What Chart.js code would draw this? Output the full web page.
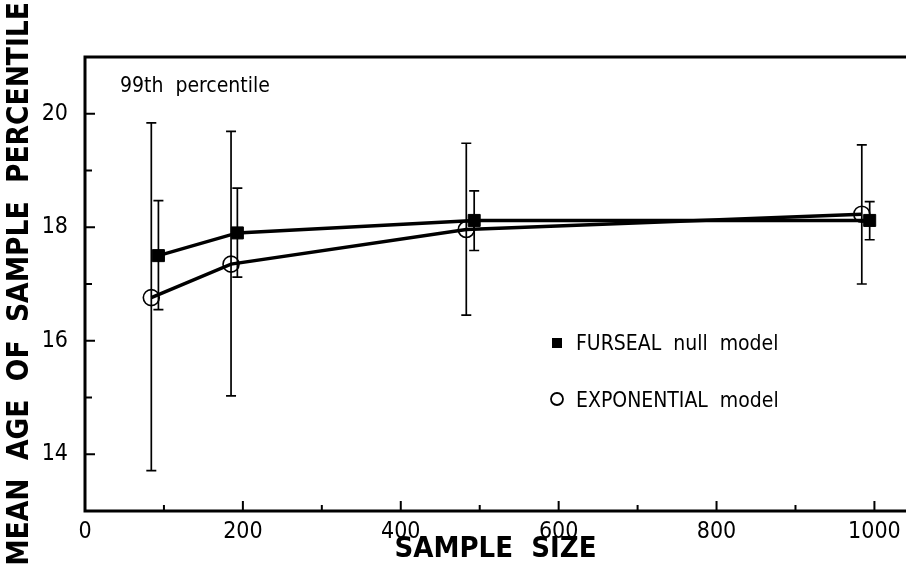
<!DOCTYPE html>
<html>
<head>
<meta charset="utf-8">
<script src="https://cdn.jsdelivr.net/npm/chart.js@4.4.0/dist/chart.umd.min.js"></script>
<style>
  html, body { margin: 0; padding: 0; background: #fff; }
  #wrap { width: 906px; height: 574px; position: relative; }
</style>
</head>
<body>
<div id="wrap"><canvas id="chart"></canvas></div>
<script>
const FONT = "'Liberation Sans Narrow', 'DejaVu Sans Condensed', 'Liberation Sans', sans-serif";

// FURSEAL null model (filled squares)
const furX = [93, 193, 493, 994];
const furY = [17.5, 17.9, 18.12, 18.12];
const furLow = [16.55, 17.12, 17.59, 17.78];
const furHigh = [18.47, 18.69, 18.64, 18.45];

// EXPONENTIAL model (open circles)
const expX = [84, 185, 483, 984];
const expY = [16.76, 17.35, 17.96, 18.23];
const expLow = [13.71, 15.03, 16.45, 17.0];
const expHigh = [19.84, 19.69, 19.48, 19.45];

const xTicks = [0, 200, 400, 600, 800, 1000];
const xMinor = [100, 300, 500, 700, 900];
const yTicks = [14, 16, 18, 20];
const yMinor = [15, 17, 19];

const points = (xs, ys, lo, hi) =>
  xs.map((x, i) => ({ x: x, y: ys[i], lo: lo[i], hi: hi[i] }));

const errorBars = {
  id: "errorBars",
  beforeDatasetsDraw(chart) {
    const { ctx, scales: { x, y } } = chart;
    ctx.save();
    ctx.strokeStyle = "#000";
    ctx.lineWidth = 1.7;
    chart.data.datasets.forEach((ds) => {
      ds.data.forEach((p) => {
        const px = x.getPixelForValue(p.x);
        const lo = y.getPixelForValue(p.lo);
        const hi = y.getPixelForValue(p.hi);
        ctx.beginPath();
        ctx.moveTo(px, lo); ctx.lineTo(px, hi);
        ctx.moveTo(px - 5, lo); ctx.lineTo(px + 5, lo);
        ctx.moveTo(px - 5, hi); ctx.lineTo(px + 5, hi);
        ctx.stroke();
      });
    });
    ctx.restore();
  },
};

// frame + inward tick marks
const frame = {
  id: "frame",
  afterDraw(chart) {
    const { ctx, chartArea: a, scales: { x, y } } = chart;
    ctx.save();
    ctx.strokeStyle = "#000";
    ctx.lineWidth = 3;
    ctx.beginPath();
    ctx.moveTo(a.right, a.top); ctx.lineTo(a.left, a.top);
    ctx.lineTo(a.left, a.bottom); ctx.lineTo(a.right, a.bottom);
    ctx.stroke();
    ctx.lineWidth = 2;
    ctx.beginPath();
    xTicks.forEach((v) => { const p = x.getPixelForValue(v); ctx.moveTo(p, a.bottom); ctx.lineTo(p, a.bottom - 10); });
    xMinor.forEach((v) => { const p = x.getPixelForValue(v); ctx.moveTo(p, a.bottom); ctx.lineTo(p, a.bottom - 6); });
    yTicks.forEach((v) => { const p = y.getPixelForValue(v); ctx.moveTo(a.left, p); ctx.lineTo(a.left + 10, p); });
    yMinor.forEach((v) => { const p = y.getPixelForValue(v); ctx.moveTo(a.left, p); ctx.lineTo(a.left + 7, p); });
    ctx.stroke();
    ctx.restore();
  },
};

// note + legend, drawn as text inside the plot
const notes = {
  id: "notes",
  afterDraw(chart) {
    const { ctx } = chart;
    ctx.save();
    ctx.fillStyle = "#000";
    ctx.strokeStyle = "#000";
    ctx.textBaseline = "middle";
    ctx.font = "21px " + FONT;
    ctx.fillText("99th  percentile", 120, 87);

    ctx.fillRect(552, 338, 10, 10);
    ctx.fillText(chart.data.datasets[0].label, 576, 345);

    ctx.lineWidth = 1.8;
    ctx.beginPath();
    ctx.arc(557, 399, 6, 0, Math.PI * 2);
    ctx.stroke();
    ctx.fillText(chart.data.datasets[1].label, 576, 402);
    ctx.restore();
  },
};

new Chart(document.getElementById("chart"), {
  type: "scatter",
  data: {
    datasets: [
      {
        label: "FURSEAL  null  model",
        data: points(furX, furY, furLow, furHigh),
        showLine: true,
        borderColor: "#000",
        borderWidth: 3.5,
        pointStyle: "rect",
        pointRadius: 8.5,
        pointBackgroundColor: "#000",
        pointBorderColor: "#000",
        pointBorderWidth: 1,
      },
      {
        label: "EXPONENTIAL  model",
        data: points(expX, expY, expLow, expHigh),
        showLine: true,
        borderColor: "#000",
        borderWidth: 3.5,
        pointStyle: "circle",
        pointRadius: 8,
        pointBackgroundColor: "rgba(0,0,0,0)",
        pointBorderColor: "#000",
        pointBorderWidth: 1.6,
      },
    ],
  },
  options: {
    responsive: true,
    maintainAspectRatio: false,
    animation: false,
    layout: { autoPadding: false, padding: { top: 57, right: 0, left: 0, bottom: 0 } },
    plugins: { legend: { display: false }, tooltip: { enabled: false } },
    scales: {
      x: {
        type: "linear",
        min: 0,
        max: 1040,
        afterBuildTicks: (s) => { s.ticks = xTicks.map((v) => ({ value: v })); },
        afterFit: (s) => { s.height = 63; s.paddingLeft = 0; s.paddingRight = 0; },
        grid: { display: false, drawTicks: false },
        border: { display: false },
        ticks: {
          color: "#000",
          padding: 7,
          maxRotation: 0,
          font: { family: FONT, size: 23 },
          callback: (v) => String(v),
        },
        title: {
          display: true,
          text: "SAMPLE  SIZE",
          color: "#000",
          padding: { top: 0, bottom: 7 },
          font: { family: FONT, size: 29, weight: "bold" },
        },
      },
      y: {
        type: "linear",
        min: 13,
        max: 21,
        afterBuildTicks: (s) => { s.ticks = yTicks.map((v) => ({ value: v })); },
        afterFit: (s) => { s.width = 85; s.paddingTop = 0; s.paddingBottom = 0; },
        grid: { display: false, drawTicks: false },
        border: { display: false },
        ticks: { color: "#000", padding: 17, font: { family: FONT, size: 23 } },
        title: {
          display: true,
          text: "MEAN  AGE  OF  SAMPLE  PERCENTILE",
          color: "#000",
          padding: { top: 3, bottom: 0 },
          font: { family: FONT, size: 29.5, weight: "bold" },
        },
      },
    },
  },
  plugins: [errorBars, frame, notes],
});
</script>
</body>
</html>
